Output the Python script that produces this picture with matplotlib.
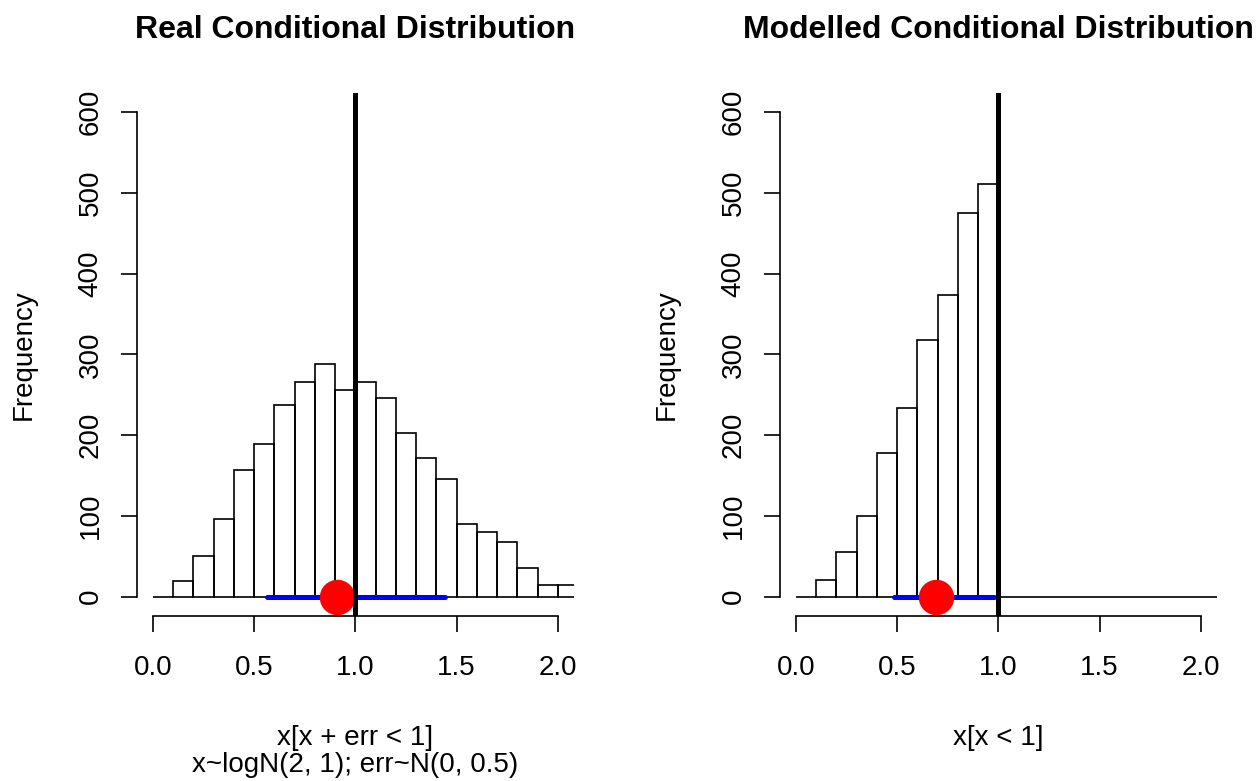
import matplotlib
matplotlib.use('Agg')
import matplotlib.pyplot as plt
import numpy as np

plt.rcParams['font.family'] = ['Liberation Sans', 'DejaVu Sans']

# ---- data ----
bin_edges = np.round(np.arange(0, 2.11, 0.1), 2)
real_counts = [0, 20, 50, 96, 157, 189, 237, 266, 288, 256, 266,
               246, 203, 172, 146, 90, 80, 68, 35, 15, 14]
model_counts = [0, 21, 55, 100, 178, 234, 318, 374, 475, 511, 0,
                0, 0, 0, 0, 0, 0, 0, 0, 0, 0]
real_interval = (0.564, 1.442)
real_point = 0.907
model_interval = (0.485, 0.98)
model_point = 0.693
threshold = 1.0
x_ticks = [0.0, 0.5, 1.0, 1.5, 2.0]
x_ticklabels = ['0.0', '0.5', '1.0', '1.5', '2.0']
y_ticks = [0, 100, 200, 300, 400, 500, 600]
titles = ['Real Conditional Distribution', 'Modelled Conditional Distribution']
xlabels = ['x[x + err < 1]\nx~logN(2, 1); err~N(0, 0.5)', 'x[x < 1]']

W, H = 1257, 781
fig = plt.figure(figsize=(W / 100, H / 100), dpi=100)

def fx(x):
    return x / W

def fy(y):
    return 1 - y / H

panels = [
    dict(left=136.5, counts=real_counts, interval=real_interval, point=real_point),
    dict(left=779.5, counts=model_counts, interval=model_interval, point=model_point),
]
right_w = 437.7
top_px, bot_px = 92.9, 616.1

LBL = 20
TTL = 23

for i, p in enumerate(panels):
    ax = fig.add_axes([fx(p['left']), fy(bot_px), right_w / W, (bot_px - top_px) / H])
    ax.set_xlim(-0.08, 2.08)
    ax.set_ylim(-24, 624)
    ax.bar(bin_edges[:-1], p['counts'], width=0.1, align='edge', fill=False,
           edgecolor='black', linewidth=1.2, zorder=1)
    ax.plot(list(p['interval']), [0, 0], color='blue', lw=3.6,
            solid_capstyle='round', zorder=2)
    ax.plot([p['point']], [0], 'o', color='red', markersize=24.5, zorder=3)
    ax.axvline(threshold, color='black', lw=3.6, zorder=4)

    for s in ['top', 'right']:
        ax.spines[s].set_visible(False)
    ax.spines['left'].set_bounds(0, 600)
    ax.spines['bottom'].set_bounds(0, 2)
    for s in ['left', 'bottom']:
        ax.spines[s].set_linewidth(1.2)
    ax.set_xticks(x_ticks)
    ax.set_xticklabels(x_ticklabels)
    ax.set_yticks(y_ticks)
    ax.set_yticklabels([str(v) for v in y_ticks], rotation=90, va='center')
    ax.tick_params(axis='both', length=11.5, width=1.2, labelsize=LBL)
    ax.tick_params(axis='x', pad=16.5)
    ax.tick_params(axis='y', pad=12)

    cx = p['left'] + right_w / 2
    fig.text(fx(cx), fy(38.5), titles[i], ha='center', va='baseline',
             fontsize=TTL, fontweight='bold')
    lines = xlabels[i].split('\n')
    for j, line in enumerate(lines):
        fig.text(fx(cx), fy(745 + 27 * j), line, ha='center', va='baseline',
                 fontsize=LBL)
    fig.text(fx(p['left'] - 106), fy((top_px + bot_px) / 2), 'Frequency',
             rotation=90, rotation_mode='anchor', ha='center', va='baseline',
             fontsize=LBL)

fig.savefig('out.png', dpi=100)
